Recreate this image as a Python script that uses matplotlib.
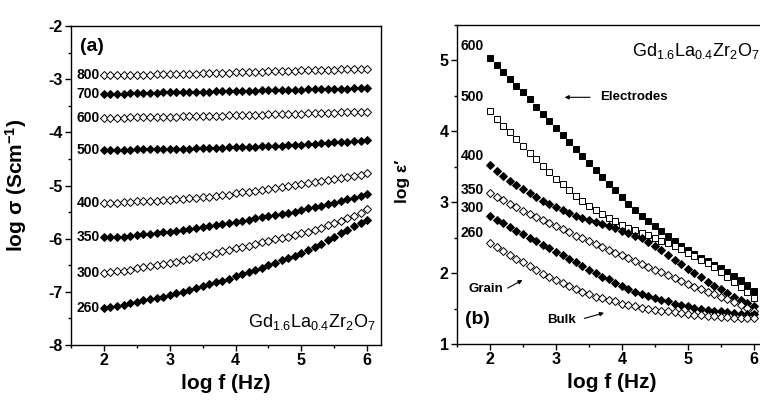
import numpy as np
import matplotlib
matplotlib.use("Agg")
import matplotlib.pyplot as plt
from matplotlib.ticker import MultipleLocator

plt.rcParams['font.family'] = ['Liberation Sans', 'DejaVu Sans']
plt.rcParams['mathtext.fontset'] = 'custom'
plt.rcParams['mathtext.rm'] = 'Liberation Sans'
plt.rcParams['mathtext.bf'] = 'Liberation Sans:bold'
plt.rcParams['mathtext.default'] = 'regular'
plt.rcParams['axes.unicode_minus'] = False

# log f (Hz), same grid for all series
logf = np.round(np.arange(2.0, 6.01, 0.1), 2)

# ---- (a) log sigma vs log f, temperatures in deg C
sig_800 = [-2.93,-2.93,-2.93,-2.92,-2.92,-2.92,-2.92,-2.92,-2.91,-2.91,
           -2.91,-2.91,-2.90,-2.90,-2.90,-2.89,-2.89,-2.89,-2.88,-2.88,
           -2.87,-2.87,-2.87,-2.86,-2.86,-2.85,-2.85,-2.85,-2.84,-2.84,
           -2.83,-2.83,-2.83,-2.82,-2.82,-2.82,-2.81,-2.81,-2.81,-2.80,-2.80]
sig_700 = [-3.27,-3.27,-3.27,-3.27,-3.26,-3.26,-3.26,-3.26,-3.26,-3.25,
           -3.25,-3.25,-3.25,-3.24,-3.24,-3.24,-3.24,-3.23,-3.23,-3.23,
           -3.23,-3.22,-3.22,-3.22,-3.21,-3.21,-3.21,-3.21,-3.20,-3.20,
           -3.20,-3.19,-3.19,-3.19,-3.19,-3.18,-3.18,-3.18,-3.17,-3.17,-3.17]
sig_600 = [-3.73,-3.73,-3.73,-3.73,-3.72,-3.72,-3.72,-3.72,-3.71,-3.71,
           -3.71,-3.71,-3.70,-3.70,-3.70,-3.70,-3.69,-3.69,-3.69,-3.68,
           -3.68,-3.68,-3.67,-3.67,-3.67,-3.66,-3.66,-3.66,-3.65,-3.65,
           -3.65,-3.64,-3.64,-3.64,-3.63,-3.63,-3.62,-3.62,-3.62,-3.61,-3.61]
sig_500 = [-4.33,-4.33,-4.33,-4.33,-4.33,-4.32,-4.32,-4.32,-4.32,-4.32,
           -4.31,-4.31,-4.31,-4.31,-4.30,-4.30,-4.30,-4.29,-4.29,-4.28,
           -4.28,-4.28,-4.27,-4.27,-4.26,-4.26,-4.25,-4.25,-4.24,-4.24,
           -4.23,-4.22,-4.22,-4.21,-4.20,-4.19,-4.19,-4.18,-4.17,-4.16,-4.14]
sig_400 = [-5.32,-5.32,-5.32,-5.31,-5.31,-5.30,-5.30,-5.29,-5.29,-5.28,-5.27,
           -5.26,-5.25,-5.24,-5.23,-5.22,-5.21,-5.20,-5.18,-5.17,-5.15,
           -5.13,-5.12,-5.10,-5.08,-5.07,-5.05,-5.03,-5.01,-4.99,-4.97,
           -4.95,-4.93,-4.91,-4.90,-4.88,-4.86,-4.84,-4.82,-4.80,-4.77]
sig_350 = [-5.97,-5.97,-5.96,-5.96,-5.95,-5.93,-5.92,-5.91,-5.90,-5.88,-5.87,
           -5.85,-5.83,-5.82,-5.80,-5.78,-5.76,-5.74,-5.72,-5.70,-5.68,
           -5.66,-5.64,-5.62,-5.60,-5.58,-5.56,-5.53,-5.51,-5.49,-5.46,
           -5.43,-5.41,-5.38,-5.35,-5.32,-5.29,-5.26,-5.23,-5.20,-5.16]
sig_300 = [-6.64,-6.63,-6.61,-6.60,-6.58,-6.56,-6.54,-6.52,-6.50,-6.47,-6.45,
           -6.43,-6.40,-6.38,-6.35,-6.32,-6.30,-6.27,-6.24,-6.21,-6.18,
           -6.15,-6.13,-6.10,-6.07,-6.04,-6.01,-5.98,-5.96,-5.93,-5.90,
           -5.87,-5.83,-5.79,-5.75,-5.71,-5.67,-5.62,-5.57,-5.51,-5.45]
sig_260 = [-7.31,-7.29,-7.26,-7.24,-7.21,-7.19,-7.16,-7.14,-7.11,-7.09,-7.06,
           -7.03,-7.00,-6.96,-6.93,-6.89,-6.86,-6.82,-6.79,-6.75,-6.71,
           -6.67,-6.63,-6.59,-6.55,-6.50,-6.46,-6.41,-6.37,-6.32,-6.27,
           -6.22,-6.16,-6.10,-6.03,-5.96,-5.90,-5.84,-5.77,-5.71,-5.65]

sig_series = [("800", sig_800, False), ("700", sig_700, True), ("600", sig_600, False),
              ("500", sig_500, True), ("400", sig_400, False), ("350", sig_350, True),
              ("300", sig_300, False), ("260", sig_260, True)]

# ---- (b) log eps' vs log f
eps_600 = [5.03,4.93,4.84,4.74,4.64,4.55,4.45,4.35,4.25,4.15,4.05,
           3.95,3.85,3.75,3.65,3.55,3.45,3.36,3.26,3.17,3.08,
           2.98,2.89,2.81,2.74,2.66,2.59,2.52,2.45,2.38,2.32,
           2.27,2.22,2.17,2.12,2.07,2.02,1.96,1.90,1.83,1.75]
eps_500 = [4.28,4.18,4.08,3.99,3.89,3.80,3.70,3.61,3.51,3.42,3.33,
           3.25,3.17,3.09,3.02,2.95,2.89,2.84,2.78,2.73,2.68,
           2.64,2.61,2.57,2.54,2.50,2.46,2.42,2.38,2.34,2.29,
           2.24,2.19,2.14,2.08,2.02,1.95,1.88,1.80,1.73,1.65]
eps_400 = [3.52,3.44,3.37,3.30,3.24,3.18,3.13,3.07,3.02,2.97,2.93,
           2.89,2.85,2.81,2.78,2.75,2.72,2.69,2.66,2.63,2.60,
           2.57,2.53,2.49,2.44,2.38,2.32,2.26,2.19,2.13,2.06,
           2.00,1.94,1.88,1.82,1.77,1.72,1.67,1.62,1.58,1.54]
eps_350 = [3.13,3.08,3.03,2.98,2.93,2.88,2.84,2.79,2.75,2.70,2.66,
           2.62,2.58,2.53,2.49,2.45,2.41,2.37,2.33,2.29,2.25,
           2.21,2.17,2.13,2.09,2.05,2.01,1.97,1.93,1.89,1.85,
           1.81,1.77,1.74,1.70,1.67,1.63,1.59,1.55,1.51,1.47]
eps_300 = [2.80,2.75,2.70,2.65,2.60,2.55,2.50,2.45,2.40,2.35,2.30,
           2.25,2.20,2.15,2.10,2.05,2.00,1.95,1.91,1.86,1.82,
           1.78,1.74,1.71,1.68,1.65,1.62,1.60,1.57,1.55,1.53,
           1.51,1.50,1.48,1.47,1.46,1.45,1.44,1.43,1.43,1.42]
eps_260 = [2.43,2.37,2.31,2.26,2.20,2.15,2.10,2.04,1.99,1.95,1.90,
           1.86,1.82,1.78,1.74,1.70,1.67,1.65,1.62,1.60,1.57,
           1.55,1.53,1.51,1.50,1.48,1.47,1.46,1.45,1.44,1.42,
           1.41,1.41,1.40,1.39,1.38,1.38,1.37,1.37,1.36,1.36]

eps_series = [("600", eps_600, True, 's', 5.0, 5.20), ("500", eps_500, False, 's', 4.6, 4.49),
              ("400", eps_400, True, 'D', 4.3, 3.65), ("350", eps_350, False, 'D', 4.3, 3.17),
              ("300", eps_300, True, 'D', 4.3, 2.92), ("260", eps_260, False, 'D', 4.3, 2.56)]

formula = r'Gd$_{1.6}$La$_{0.4}$Zr$_{2}$O$_{7}$'

fig = plt.figure(figsize=(7.6, 4.01), dpi=100)
W, H = 760.0, 401.0
ax1 = fig.add_axes([71/W, 1-345/H, (381-71)/W, (345-26)/H])
ax2 = fig.add_axes([457/W, 1-344/H, (767-457)/W, (344-25)/H])

for ax in (ax1, ax2):
    for s in ax.spines.values():
        s.set_linewidth(1.0)
    ax.xaxis.set_major_locator(MultipleLocator(1))
    ax.xaxis.set_minor_locator(MultipleLocator(0.5))
    ax.yaxis.set_major_locator(MultipleLocator(1))
    ax.yaxis.set_minor_locator(MultipleLocator(0.5))
    ax.tick_params(which='major', direction='out', length=4, width=1.0,
                   labelsize=11.5, pad=2)
    ax.tick_params(which='minor', direction='out', length=2.5, width=1.0)
    ax.set_xlabel('log f (Hz)', fontsize=15, fontweight='bold', labelpad=4)

# (a)
for name, vals, filled, in sig_series:
    ax1.plot(logf, vals, ls='none', marker='D', ms=4.3,
             mfc='black' if filled else 'white', mec='black', mew=0.7)
    ax1.text(1.94, vals[0], name, ha='right', va='center', fontsize=10,
             fontweight='bold')
ax1.set_xlim(1.5, 6.21)
ax1.set_ylim(-8, -2)
ax1.set_ylabel(r'log σ (Scm$^{\mathbf{-1}}$)', fontsize=15, fontweight='bold')
ax1.yaxis.set_label_coords(-0.135, 0.5)
ax1.text(1.635, -2.39, '(a)', fontsize=14, fontweight='bold', va='center')
ax1.text(6.13, -7.56, formula, fontsize=13, ha='right', va='center')

# (b)
for name, vals, filled, mk, ms, ylab in eps_series:
    ax2.plot(logf, vals, ls='none', marker=mk, ms=ms,
             mfc='black' if filled else 'white', mec='black', mew=0.7)
    ax2.text(1.73, ylab, name, ha='center', va='center', fontsize=10,
             fontweight='bold')
ax2.set_xlim(1.5, 6.2)
ax2.set_ylim(1, 5.5)
ax2.set_ylabel('log ε′', fontsize=12.5, fontweight='bold')
ax2.yaxis.set_label_coords(-0.15, 0.51)
ax2.text(1.62, 1.34, '(b)', fontsize=14, fontweight='bold', va='center')
ax2.text(4.15, 5.14, formula, fontsize=13, ha='left', va='center')

ax2.annotate('', xy=(3.09, 4.48), xytext=(3.56, 4.48),
             arrowprops=dict(arrowstyle='-|>', lw=0.8, color='black',
                             mutation_scale=6))
ax2.text(3.67, 4.48, 'Electrodes', fontsize=9.5, fontweight='bold', va='center')
ax2.annotate('', xy=(2.53, 1.92), xytext=(2.23, 1.77),
             arrowprops=dict(arrowstyle='-|>', lw=0.8, color='black',
                             mutation_scale=6))
ax2.text(1.67, 1.77, 'Grain', fontsize=9.5, fontweight='bold', va='center')
ax2.annotate('', xy=(3.77, 1.45), xytext=(3.39, 1.35),
             arrowprops=dict(arrowstyle='-|>', lw=0.8, color='black',
                             mutation_scale=6))
ax2.text(2.86, 1.34, 'Bulk', fontsize=9.5, fontweight='bold', va='center')

for ax in (ax1, ax2):
    for lab in ax.get_xticklabels() + ax.get_yticklabels():
        lab.set_fontweight('bold')

fig.savefig('out.png', dpi=100)
